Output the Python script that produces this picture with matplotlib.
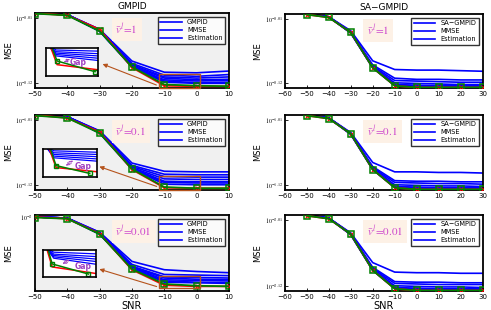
import matplotlib
matplotlib.use('Agg')
import matplotlib.pyplot as plt
from matplotlib.patches import Rectangle
from matplotlib.transforms import blended_transform_factory
import numpy as np

plt.rcParams['mathtext.fontset'] = 'stix'

# ---- data (log10 of MSE) ----
snr_left = [-50, -40, -30, -20, -10, 0, 10]
snr_right = [-50, -40, -30, -20, -10, 0, 10, 20, 30]

# GMPID, v=1
gm1_blue = [
    [-0.001, -0.004, -0.029, -0.083, -0.102, -0.103, -0.100],
    [-0.001, -0.004, -0.029, -0.087, -0.107, -0.109, -0.106],
    [-0.001, -0.004, -0.030, -0.089, -0.110, -0.112, -0.110],
    [-0.001, -0.004, -0.030, -0.091, -0.112, -0.115, -0.114],
    [-0.001, -0.004, -0.032, -0.092, -0.115, -0.117, -0.116],
    [-0.001, -0.004, -0.032, -0.093, -0.117, -0.120, -0.119],
    [-0.001, -0.004, -0.032, -0.093, -0.119, -0.121, -0.121],
]
gm1_mmse = [-0.001, -0.005, -0.029, -0.094, -0.125, -0.126, -0.126]
gm1_est = [-0.002, -0.005, -0.032, -0.093, -0.123, -0.125, -0.126]

# GMPID, v=0.1
gm2_blue = [
    [-1.001, -1.004, -1.028, -1.083, -1.097, -1.098, -1.098],
    [-1.001, -1.004, -1.029, -1.087, -1.102, -1.103, -1.103],
    [-1.001, -1.004, -1.029, -1.089, -1.106, -1.107, -1.107],
    [-1.001, -1.004, -1.030, -1.091, -1.110, -1.111, -1.111],
    [-1.001, -1.004, -1.030, -1.092, -1.114, -1.115, -1.115],
    [-1.001, -1.004, -1.032, -1.093, -1.116, -1.117, -1.117],
    [-1.001, -1.004, -1.032, -1.093, -1.119, -1.120, -1.120],
]
gm2_mmse = [-1.001, -1.006, -1.030, -1.094, -1.125, -1.126, -1.126]
gm2_est = [-1.002, -1.006, -1.032, -1.093, -1.124, -1.126, -1.126]

# GMPID, v=0.01
gm3_blue = [
    [-2.004, -2.006, -2.030, -2.079, -2.093, -2.096, -2.098],
    [-2.004, -2.006, -2.030, -2.084, -2.101, -2.102, -2.103],
    [-2.004, -2.006, -2.032, -2.087, -2.105, -2.106, -2.107],
    [-2.004, -2.006, -2.032, -2.088, -2.107, -2.109, -2.110],
    [-2.004, -2.006, -2.033, -2.089, -2.110, -2.111, -2.112],
    [-2.004, -2.006, -2.033, -2.091, -2.112, -2.114, -2.115],
    [-2.004, -2.006, -2.033, -2.091, -2.114, -2.115, -2.116],
]
gm3_mmse = [-2.004, -2.007, -2.032, -2.093, -2.119, -2.121, -2.121]
gm3_est = [-2.005, -2.007, -2.033, -2.092, -2.117, -2.120, -2.121]

# SA-GMPID, v=1
sa1_blue = [
    [-0.001, -0.006, -0.030, -0.082, -0.097, -0.098, -0.098, -0.099, -0.100],
    [-0.001, -0.006, -0.032, -0.089, -0.112, -0.114, -0.114, -0.115, -0.115],
    [-0.001, -0.006, -0.032, -0.091, -0.116, -0.117, -0.118, -0.119, -0.119],
    [-0.001, -0.006, -0.033, -0.092, -0.120, -0.121, -0.122, -0.123, -0.123],
    [-0.001, -0.006, -0.033, -0.093, -0.123, -0.124, -0.125, -0.125, -0.125],
    [-0.001, -0.006, -0.034, -0.094, -0.124, -0.125, -0.126, -0.126, -0.126],
    [-0.001, -0.006, -0.034, -0.094, -0.125, -0.126, -0.127, -0.128, -0.128],
]
sa1_mmse = [-0.002, -0.007, -0.033, -0.094, -0.125, -0.128, -0.128, -0.128, -0.128]
sa1_est = [-0.002, -0.007, -0.033, -0.094, -0.125, -0.128, -0.128, -0.128, -0.128]

# SA-GMPID, v=0.1
sa2_blue = [
    [-1.001, -1.006, -1.031, -1.082, -1.098, -1.098, -1.099, -1.099, -1.100],
    [-1.001, -1.006, -1.032, -1.089, -1.113, -1.114, -1.114, -1.115, -1.115],
    [-1.001, -1.006, -1.032, -1.091, -1.116, -1.117, -1.118, -1.118, -1.119],
    [-1.001, -1.006, -1.033, -1.092, -1.120, -1.121, -1.122, -1.122, -1.123],
    [-1.001, -1.006, -1.033, -1.093, -1.123, -1.124, -1.125, -1.125, -1.125],
    [-1.001, -1.006, -1.034, -1.094, -1.124, -1.125, -1.126, -1.126, -1.126],
    [-1.001, -1.006, -1.034, -1.094, -1.125, -1.126, -1.127, -1.128, -1.128],
]
sa2_mmse = [-1.002, -1.007, -1.033, -1.094, -1.125, -1.128, -1.128, -1.128, -1.128]
sa2_est = [-1.002, -1.007, -1.033, -1.094, -1.125, -1.128, -1.128, -1.128, -1.128]

# SA-GMPID, v=0.01
sa3_blue = [
    [-2.001, -2.006, -2.031, -2.081, -2.097, -2.098, -2.098, -2.099, -2.099],
    [-2.001, -2.006, -2.032, -2.089, -2.113, -2.114, -2.114, -2.115, -2.115],
    [-2.001, -2.006, -2.032, -2.091, -2.116, -2.117, -2.118, -2.118, -2.118],
    [-2.001, -2.006, -2.033, -2.092, -2.120, -2.121, -2.122, -2.122, -2.123],
    [-2.001, -2.006, -2.033, -2.093, -2.123, -2.124, -2.125, -2.125, -2.125],
    [-2.001, -2.006, -2.034, -2.094, -2.124, -2.125, -2.126, -2.126, -2.126],
    [-2.001, -2.006, -2.034, -2.094, -2.125, -2.126, -2.127, -2.128, -2.128],
]
sa3_mmse = [-2.002, -2.007, -2.033, -2.094, -2.125, -2.128, -2.128, -2.128, -2.128]
sa3_est = [-2.002, -2.007, -2.033, -2.094, -2.125, -2.128, -2.128, -2.128, -2.128]

# y-axis ticks (log10 values) and labels per row
left_ticks = [[-0.01, -0.12], [-1.01, -1.12], [-2.005]]
left_ticklabels = [[r'$10^{-0.01}$', r'$10^{-0.12}$'],
                   [r'$10^{-1.01}$', r'$10^{-1.12}$'],
                   [r'$10^{-2}$']]
right_ticks = [[-0.01, -0.12], [-1.01, -1.12], [-2.01, -2.12]]
right_ticklabels = [[r'$10^{-0.01}$', r'$10^{-0.12}$'],
                    [r'$10^{-1.01}$', r'$10^{-1.12}$'],
                    [r'$10^{-2.01}$', r'$10^{-2.12}$']]
ylims = [(-0.129, -0.001), (-1.129, -1.001), (-2.129, -2.001)]
nu_labels = [r'$\bar{v}^l\!=\!1$', r'$\bar{v}^l\!=\!0.1$', r'$\bar{v}^l\!=\!0.01$']

# schematic zoom insets (fractions of inset box)
inset_blue_x = [0.05, 0.2, 1.0]
inset_blue = [
    [[1.1, 0.92, 0.88], [1.1, 0.86, 0.79], [1.1, 0.81, 0.71], [1.1, 0.76, 0.63], [1.1, 0.71, 0.55]],
    [[1.1, 0.95, 0.90], [1.1, 0.88, 0.82], [1.1, 0.82, 0.74], [1.1, 0.76, 0.66], [1.1, 0.70, 0.58]],
    [[1.1, 0.92, 0.86], [1.1, 0.85, 0.76], [1.1, 0.80, 0.67], [1.1, 0.75, 0.58], [1.1, 0.70, 0.48]],
]
inset_red = [([0.08, 0.22, 1.0], [1.1, 0.40, 0.22]),
             ([0.10, 0.24, 1.0], [1.1, 0.35, 0.20]),
             ([0.06, 0.17, 1.0], [1.1, 0.38, 0.14])]
inset_green = [([0.10, 0.22, 0.95], [1.1, 0.53, 0.15]),
               ([0.12, 0.24, 0.87], [1.1, 0.42, 0.14]),
               ([0.08, 0.17, 0.86], [1.1, 0.49, 0.12])]
gap_text = [(0.62, 0.47), (0.75, 0.38), (0.76, 0.39)]
gap_arrow = [((0.30, 0.45), (0.52, 0.64)), ((0.38, 0.36), (0.60, 0.66)), ((0.32, 0.45), (0.55, 0.68))]

# layout (figure fractions)
left_pos = [[0.0713, 0.716, 0.395, 0.242], [0.0713, 0.387, 0.395, 0.242], [0.0713, 0.061, 0.395, 0.245]]
right_pos = [[0.580, 0.716, 0.403, 0.239], [0.580, 0.387, 0.403, 0.242], [0.580, 0.061, 0.403, 0.245]]
inset_pos = [[0.093, 0.755, 0.106, 0.091], [0.088, 0.428, 0.109, 0.090], [0.088, 0.1055, 0.107, 0.088]]
zoom_box = [(0.0, 0.19), (0.0, 0.19), (0.04, 0.20)]
link_arrow = [((0.639, 0.027), (0.335, 0.333)), ((0.641, 0.036), (0.318, 0.324)), ((0.641, 0.049), (0.318, 0.299))]

BLUE = '#0000ff'
RED = '#ff0000'
GREEN = '#008000'
BROWN = '#b5531c'
PURPLE = '#a040c0'

fig = plt.figure(figsize=(4.91, 3.10), dpi=100)


def style_axes(ax, lw=1.3):
    for s in ax.spines.values():
        s.set_linewidth(lw)
    ax.tick_params(direction='in', length=2, width=0.6, pad=2)
    ax.tick_params(axis='x', labelsize=5)
    ax.tick_params(axis='y', labelsize=4.3, pad=1.5)
    ax.minorticks_off()


def draw_panel(ax, snr, blue, mmse, est, name, row, ticks, ticklabels, xlim, xticks, shaded):
    for line in blue:
        ax.plot(snr, line, color=BLUE, lw=1.2, zorder=2)
    ax.plot(snr, mmse, color=RED, lw=1.3, marker='x', ms=2.5, mew=0.8, zorder=3)
    ax.plot(snr, est, color=GREEN, lw=1.3, marker='s', ms=3.8, mfc='none', mec=GREEN, mew=1.1, zorder=4)
    ax.set_xlim(*xlim)
    ax.set_ylim(*ylims[row])
    ax.set_xticks(xticks)
    ax.set_yticks(ticks)
    ax.set_yticklabels(ticklabels)
    ax.set_ylabel('MSE', fontsize=6)
    ax.yaxis.set_label_coords(-0.115, 0.5)
    if shaded:
        ax.set_facecolor('#f0f0f0')
    style_axes(ax)
    if row == 0:
        ax.set_title(name, fontsize=6.5, pad=3)
    if row == 2:
        ax.set_xlabel('SNR', fontsize=7, labelpad=1)
    leg = ax.legend([name, 'MMSE', 'Estimation'], loc='upper right', fontsize=4.8,
                    frameon=True, fancybox=False, handlelength=3.2, borderpad=0.35,
                    labelspacing=0.3, borderaxespad=0.6)
    leg.get_frame().set_edgecolor('black')
    leg.get_frame().set_linewidth(1.0)
    ax.text(0.415, 0.78, nu_labels[row], transform=ax.transAxes, fontsize=8,
            color='#cc44cc', ha='left', va='center',
            bbox=dict(boxstyle='square,pad=0.35', fc='#fdf1e6', ec='none'))


for row in range(3):
    ax_l = fig.add_axes(left_pos[row])
    blue_l = [gm1_blue, gm2_blue, gm3_blue][row]
    mmse_l = [gm1_mmse, gm2_mmse, gm3_mmse][row]
    est_l = [gm1_est, gm2_est, gm3_est][row]
    draw_panel(ax_l, snr_left, blue_l, mmse_l, est_l, 'GMPID', row,
               left_ticks[row], left_ticklabels[row], (-50, 10), np.arange(-50, 11, 10), True)

    # zoom rectangle and connecting arrow
    trans = blended_transform_factory(ax_l.transData, ax_l.transAxes)
    y0, y1 = zoom_box[row]
    ax_l.add_patch(Rectangle((-11.5, y0), 12.5, y1 - y0, transform=trans, fill=False,
                             ec=BROWN, lw=1.0, zorder=5, clip_on=False))
    (xa, ya), (xb, yb) = link_arrow[row]
    ax_l.annotate('', xy=(xb, yb), xytext=(xa, ya), xycoords='axes fraction',
                  textcoords='axes fraction',
                  arrowprops=dict(arrowstyle='-|>', color=BROWN, lw=0.8, mutation_scale=6))

    # inset
    ins = fig.add_axes(inset_pos[row])
    for line in inset_blue[row]:
        ins.plot(inset_blue_x, line, color=BLUE, lw=0.9)
    ins.plot(*inset_red[row], color=RED, lw=1.1)
    ins.plot(*inset_green[row], color=GREEN, lw=1.1, marker='s', ms=3.5, mfc='none',
             mec=GREEN, mew=1.0, markevery=[1, 2])
    ins.set_xlim(0, 1)
    ins.set_ylim(0, 1)
    ins.set_xticks([])
    ins.set_yticks([])
    for s in ins.spines.values():
        s.set_linewidth(1.2)
    gx, gy = gap_text[row]
    ins.text(gx, gy, 'Gap', color=PURPLE, fontsize=5.5, fontweight='bold', ha='center', va='center')
    (p0, p1) = gap_arrow[row]
    ins.annotate('', xy=p1, xytext=p0, xycoords='data', textcoords='data',
                 arrowprops=dict(arrowstyle='<->', color=PURPLE, lw=0.7, ls='--', mutation_scale=5))

    ax_r = fig.add_axes(right_pos[row])
    blue_r = [sa1_blue, sa2_blue, sa3_blue][row]
    mmse_r = [sa1_mmse, sa2_mmse, sa3_mmse][row]
    est_r = [sa1_est, sa2_est, sa3_est][row]
    draw_panel(ax_r, snr_right, blue_r, mmse_r, est_r, 'SA\u2212GMPID', row,
               right_ticks[row], right_ticklabels[row], (-60, 30), np.arange(-60, 31, 10), False)

fig.savefig('out.png', dpi=100, facecolor='white')
